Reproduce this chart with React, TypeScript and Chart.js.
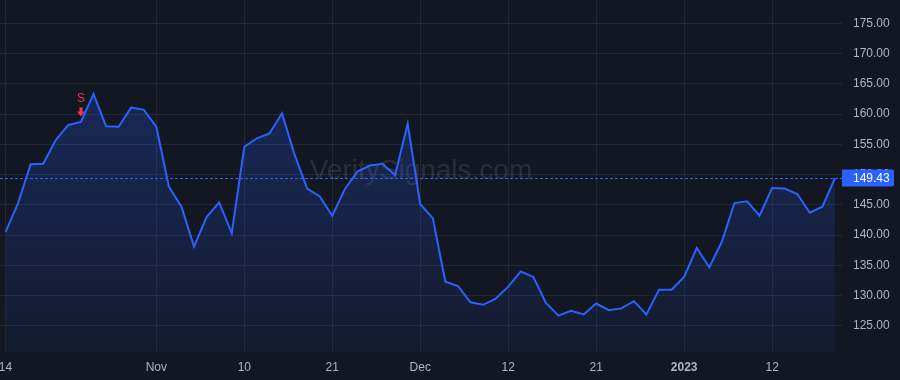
import React, { useEffect, useRef } from "react";
import { Chart, registerables } from "chart.js";

Chart.register(...registerables);

// Daily closes, trading days from Oct 14 2022 to Jan 20 2023
const prices: number[] = [
  140.5, 145.3, 151.7, 151.8, 155.7, 158.2, 158.7, 163.3, 158.0, 157.9,
  161.1, 160.7, 157.9, 148.0, 144.7, 138.1, 143.0, 145.4, 140.3, 154.6,
  156.0, 156.8, 160.1, 153.3, 147.7, 146.4, 143.2, 147.6, 150.5, 151.5,
  151.8, 149.9, 158.4, 145.1, 142.8, 132.3, 131.6, 128.9, 128.5, 129.5,
  131.5, 134.0, 133.1, 128.8, 126.7, 127.5, 126.9, 128.7, 127.6, 127.9,
  129.1, 126.9, 131.0, 131.0, 133.1, 137.9, 134.7, 138.9, 145.3, 145.6,
  143.2, 147.8, 147.7, 146.8, 143.7, 144.7, 149.43,
];

const xTickIndex: number[] = [0, 12, 19, 26, 33, 40, 47, 54, 61];
const xTickLabels: string[] = ["14", "Nov", "10", "21", "Dec", "12", "21", "2023", "12"];
const yTicks: number[] = [125, 130, 135, 140, 145, 150, 155, 160, 165, 170, 175];

const lastPrice = 149.43;
const signalIndex = 6;
const signalText = "S";
const watermark = "VeritySignals.com";

const BG = "#131722";
const BLUE = "#2962ff";
const RED = "#f23645";
const GRID = "#232733";
const TEXT = "#b2b5be";
const FONT = "'Liberation Sans', Arial, sans-serif";

function zeroPad(s: any) {
  s.paddingLeft = 0;
  s.paddingRight = 0;
  s.paddingTop = 0;
  s.paddingBottom = 0;
}

export default function App() {
  const ref = useRef<HTMLCanvasElement | null>(null);

  useEffect(() => {
    document.body.style.margin = "0";
    document.body.style.background = BG;
    const canvas = ref.current;
    if (!canvas) return;

    const overlay = {
      id: "overlay",
      beforeDraw(chart: any) {
        const { ctx, width, height } = chart;
        ctx.save();
        ctx.fillStyle = BG;
        ctx.fillRect(0, 0, width, height);
        ctx.restore();
      },
      beforeDatasetsDraw(chart: any) {
        const { ctx } = chart;
        ctx.save();
        ctx.font = `28px ${FONT}`;
        ctx.fillStyle = "rgba(255,255,255,0.10)";
        ctx.textAlign = "center";
        ctx.textBaseline = "middle";
        ctx.fillText(watermark, 421, 171);
        ctx.restore();
      },
      afterDatasetsDraw(chart: any) {
        const { ctx, chartArea, scales } = chart;
        const y = scales.y.getPixelForValue(lastPrice);
        ctx.save();
        // dashed price line
        ctx.strokeStyle = BLUE;
        ctx.lineWidth = 1;
        ctx.setLineDash([3, 2]);
        ctx.beginPath();
        ctx.moveTo(chartArea.left, Math.round(y) + 0.5);
        ctx.lineTo(chartArea.right, Math.round(y) + 0.5);
        ctx.stroke();
        ctx.setLineDash([]);
        // price label
        const lx = chartArea.right;
        const lw = 52;
        const lh = 17;
        ctx.fillStyle = BLUE;
        ctx.beginPath();
        (ctx as any).roundRect(lx, y - lh / 2, lw, lh, [0, 2, 2, 0]);
        ctx.fill();
        ctx.fillStyle = "#ffffff";
        ctx.font = `12px ${FONT}`;
        ctx.textAlign = "left";
        ctx.textBaseline = "middle";
        ctx.fillText(lastPrice.toFixed(2), lx + 11, y + 0.5);
        // signal marker
        const meta = chart.getDatasetMeta(0);
        const pt = meta.data[signalIndex];
        const px = pt.x;
        const py = pt.y;
        ctx.fillStyle = RED;
        ctx.fillRect(px - 1.5, py - 14.5, 3, 5);
        ctx.beginPath();
        ctx.moveTo(px - 4, py - 10.5);
        ctx.lineTo(px + 4, py - 10.5);
        ctx.lineTo(px, py - 5.5);
        ctx.closePath();
        ctx.fill();
        ctx.font = `12px ${FONT}`;
        ctx.textAlign = "center";
        ctx.textBaseline = "middle";
        ctx.fillText(signalText, px, py - 23);
        ctx.restore();
      },
    };

    const chart = new Chart(canvas, {
      type: "line",
      data: {
        datasets: [
          {
            data: prices.map((v, i) => ({ x: i, y: v })),
            borderColor: BLUE,
            borderWidth: 2,
            pointRadius: 0,
            tension: 0,
            fill: "start",
            backgroundColor: (c: any) => {
              const area = c.chart.chartArea;
              if (!area) return "rgba(41,98,255,0.15)";
              const g = c.chart.ctx.createLinearGradient(0, area.top, 0, area.bottom);
              g.addColorStop(0, "rgba(41,98,255,0.30)");
              g.addColorStop(1, "rgba(41,98,255,0.06)");
              return g;
            },
          },
        ],
      },
      options: {
        animation: false,
        responsive: false,
        maintainAspectRatio: false,
        layout: { padding: 0 },
        plugins: {
          legend: { display: false },
          tooltip: { enabled: false },
        },
        scales: {
          x: {
            type: "linear",
            min: -0.44,
            max: 66.56,
            afterBuildTicks: (s: any) => {
              s.ticks = xTickIndex.map((v) => ({ value: v }));
            },
            afterFit: (s: any) => {
              s.height = 28;
              zeroPad(s);
            },
            grid: { color: GRID, drawTicks: false },
            border: { display: false },
            ticks: {
              autoSkip: false,
              maxRotation: 0,
              padding: 8,
              color: TEXT,
              font: (c: any) => ({
                family: FONT,
                size: 12,
                weight: c.tick && c.tick.label === "2023" ? "bold" : "normal",
              }),
              callback: (v: any) => {
                const i = xTickIndex.indexOf(Number(v));
                return i >= 0 ? xTickLabels[i] : "";
              },
            },
          },
          y: {
            position: "right",
            min: 120.7,
            max: 178.84,
            afterBuildTicks: (s: any) => {
              s.ticks = yTicks.map((v) => ({ value: v }));
            },
            afterFit: (s: any) => {
              s.width = 58;
              zeroPad(s);
            },
            grid: { color: GRID, drawTicks: false },
            border: { display: false },
            ticks: {
              padding: 11,
              color: TEXT,
              font: { family: FONT, size: 12 },
              callback: (v: any) => Number(v).toFixed(2),
            },
          },
        },
      },
      plugins: [overlay],
    } as any);

    return () => chart.destroy();
  }, []);

  return (
    <div style={{ width: 900, height: 380, background: BG }}>
      <canvas ref={ref} width={900} height={380} style={{ display: "block", width: 900, height: 380 }} />
    </div>
  );
}
